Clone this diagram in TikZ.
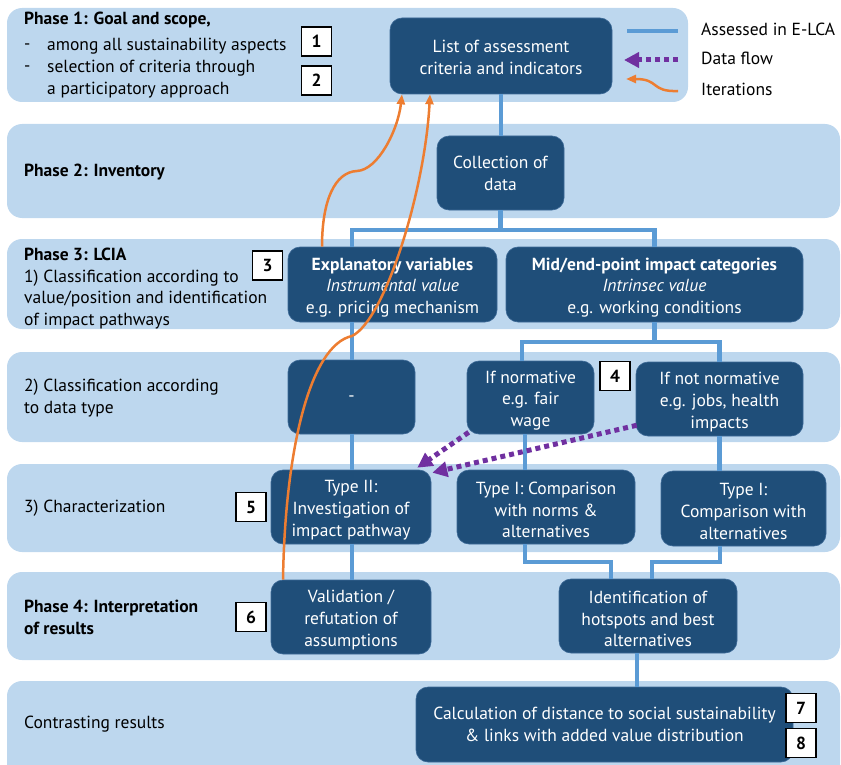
\documentclass[tikz,border=0pt]{standalone}
\usepackage{fontspec}
\setmainfont{PT Sans}
\usetikzlibrary{arrows.meta,calc}
\definecolor{bandc}{RGB}{189,215,238}
\definecolor{boxc}{RGB}{31,78,121}
\definecolor{boxedge}{RGB}{60,105,150}
\definecolor{connc}{RGB}{91,155,213}
\definecolor{flowc}{RGB}{112,48,160}
\definecolor{iterc}{RGB}{237,125,49}
\newcommand\fs{\fontsize{17.5pt}{21.8pt}\selectfont}
\newcommand\lift{\rule{0pt}{18.5pt}}
\newcommand\liftb{\rule{0pt}{15pt}}
\begin{document}
\begin{tikzpicture}[x=1pt,y=-1pt,
  band/.style={fill=bandc, rounded corners=15pt},
  box/.style={draw=boxedge, line width=0.6pt, fill=boxc, rounded corners=12pt, text=white, align=center, inner sep=0pt, font=\fs},
  num/.style={draw=black, line width=1.5pt, fill=white, minimum width=30pt, minimum height=29pt, inner sep=0pt, font=\fs\bfseries},
  lbl/.style={anchor=west, align=left, inner sep=0pt, font=\fs},
  one/.style={text height=13pt, text depth=4pt},
  conn/.style={draw=connc, line width=4.5pt},
  flow/.style={draw=flowc, line width=5pt, dash pattern=on 5pt off 4pt, -{Triangle[length=15pt,width=15pt]}},
  iter/.style={draw=iterc, line width=2.5pt, -{Triangle[length=10pt,width=8pt]}}]
\useasboundingbox (0,0) rectangle (841,765);
% bands
\fill[band] (7,8) rectangle (688,102);
\fill[band] (7,124) rectangle (840,218);
\fill[band] (7,239) rectangle (840,329);
\fill[band] (7,352) rectangle (840,442);
\fill[band] (7,464) rectangle (840,552);
\fill[band] (7,572) rectangle (840,660);
\fill[band] (7,681) rectangle (840,790);
% left labels
\node[lbl, one, font=\fs\bfseries] (p1t) at (24,20) {Phase 1: Goal and scope,};
\node[lbl, one] (d1) at (24,45.5) {-};
\node[lbl, one] (d2) at (24,67.5) {-};
\node[lbl] (p1l) at (47,67) {\liftb among all sustainability aspects\\selection of criteria through\\a participatory approach};
\node[lbl, one, font=\fs\bfseries] (p2t) at (24,172) {Phase 2: Inventory};
\node[lbl] (p3t) at (24,285.5) {\lift\textbf{Phase 3: LCIA}\\1) Classification according to\\value/position and identification\\of impact pathways};
\node[lbl] (p3b) at (24,397) {\liftb 2) Classification according\\to data type};
\node[lbl, one] (p3c) at (24,508) {3) Characterization};
\node[lbl, font=\fs\bfseries] (p4t) at (24,617) {Phase 4: Interpretation\\of results};
\node[lbl, one] (p5t) at (24,724) {Contrasting results};
% legend
\coordinate (lg1a) at (627,31); \coordinate (lg1b) at (678,31);
\coordinate (lg2a) at (624,60); \coordinate (lg2b) at (678,60);
\coordinate (lg3a) at (626,79); \coordinate (lg3b) at (678,91);
\draw[conn] (lg1a) -- (lg1b);
\draw[flow] (lg2b) -- (lg2a);
\draw[iter] (lg3b) .. controls (650,92) and (660,79) .. (lg3a);
\node[lbl, one] (lgt1) at (701,31) {Assessed in E-LCA};
\node[lbl, one] (lgt2) at (701,60) {Data flow};
\node[lbl, one] (lgt3) at (701,91) {Iterations};
% boxes
\node[box, minimum width=222pt, minimum height=76pt] (list) at (501,56) {\liftb List of assessment\\criteria and indicators};
\node[box, minimum width=127pt, minimum height=74pt] (coll) at (500.5,173) {Collection of\\data};
\node[box, minimum width=209pt, minimum height=75pt] (expl) at (392.5,284.5) {\lift{\bfseries Explanatory variables}\\{\itshape Instrumental value}\\e.g. pricing mechanism};
\node[box, minimum width=297pt, minimum height=75pt] (mid) at (654.5,284.5) {\lift{\bfseries Mid/end-point impact categories}\\{\itshape Intrinsec value}\\e.g. working conditions};
\node[box, one, minimum width=127pt, minimum height=74pt] (dash) at (351.5,397) {-};
\node[box, minimum width=127pt, minimum height=73pt] (ifnorm) at (530.5,397.5) {\lift If normative\\e.g. fair\\wage};
\node[box, minimum width=167pt, minimum height=74pt] (ifnot) at (719.5,399) {\lift If not normative\\e.g. jobs, health\\impacts};
\node[box, minimum width=160pt, minimum height=74pt] (t2) at (351,507) {\lift Type II:\\Investigation of\\impact pathway};
\node[box, minimum width=178pt, minimum height=74pt] (t1a) at (546,507) {\lift Type I: Comparison\\with norms \&\\alternatives};
\node[box, minimum width=165pt, minimum height=75pt] (t1b) at (743.5,508.5) {\lift Type I:\\Comparison with\\alternatives};
\node[box, minimum width=160pt, minimum height=74pt] (valid) at (351,617) {\lift Validation /\\refutation of\\assumptions};
\node[box, minimum width=178pt, minimum height=74pt] (ident) at (648,616) {\lift Identification of\\hotspots and best\\alternatives};
\node[box, minimum width=377pt, minimum height=75pt] (calc) at (604.5,724.5) {Calculation of distance to social sustainability\\\& links with added value distribution};
% helper coordinates
\coordinate (cA) at (352,0);
\coordinate (j1) at (500.5,230);
\coordinate (j2) at (654.5,342);
\coordinate (xn) at (522,0);
\coordinate (xo) at (525,0);
\coordinate (p1) at (525,562); \coordinate (p2) at (611,562);
\coordinate (p3) at (720,562); \coordinate (p4) at (652,562);
\coordinate (xc) at (637,0);
% numbers
\node[num] (n1) at (316.5,41.5) {1};
\node[num] (n2) at (316.5,80.5) {2};
\node[num] (n3) at (267.5,265.5) {3};
\node[num] (n4) at (615,376) {4};
\node[num] (n5) at (251,507) {5};
\node[num] (n6) at (251,617) {6};
\node[num] (n7) at (801,708) {7};
\node[num] (n8) at (801,743) {8};
% blue connectors
\draw[conn] (list.south) -- (list.south |- coll.north);
\draw[conn] (coll.south) -- (j1);
\draw[conn] (expl.north -| cA) |- (j1) -| (mid.north);
\draw[conn] (expl.south -| cA) -- (dash.north -| cA);
\draw[conn] (dash.south -| cA) -- (t2.north -| cA);
\draw[conn] (t2.south -| cA) -- (valid.north -| cA);
\draw[conn] (mid.south) -- (j2);
\draw[conn] (ifnorm.north -| xn) |- (j2) -| (ifnot.north);
\draw[conn] (ifnorm.south -| xo) -- (t1a.north -| xo);
\draw[conn] (ifnot.south) -- (ifnot.south |- t1b.north);
\draw[conn] (t1a.south -| p1) -- (p1) -- (p2) -- (ident.north -| p2);
\draw[conn] (t1b.south -| p3) -- (p3) -- (p4) -- (ident.north -| p4);
\draw[conn] (ident.south -| xc) -- (calc.north -| xc);
% iterations
\coordinate (a1x) at (322,0); \coordinate (a1e) at (402,0);
\coordinate (k1) at (357,171);
\coordinate (a2x) at (283,0); \coordinate (a2e) at (430,0);
\coordinate (k2) at (352,336);
\draw[iter] (expl.north -| a1x) .. controls (322,200) and (335,172) .. (k1) .. controls (378,170) and (398,130) .. (list.south -| a1e);
\draw[iter] (valid.north -| a2x) .. controls (285,450) and (310,345) .. (k2) .. controls (385,320) and (425,190) .. (list.south -| a2e);
% data flow
\draw[flow] ($(ifnorm.south west)+(2,-2)$) -- ($(t2.north east)+(-14,-2)$);
\draw[flow] ($(ifnot.south west)+(1,-11)$) -- ($(t2.north east)+(1,3)$);
\end{tikzpicture}
\end{document}
